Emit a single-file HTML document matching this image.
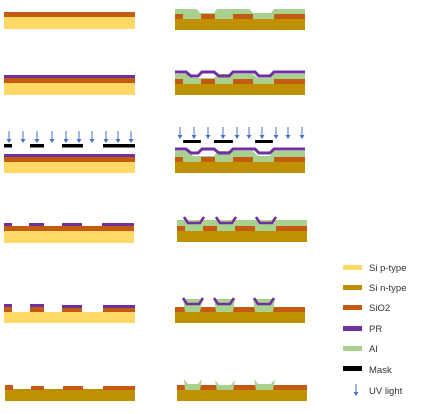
<!DOCTYPE html>
<html><head><meta charset="utf-8"><style>
body{margin:0;background:#fff;width:425px;height:414px;overflow:hidden}
svg{display:block}
text{font-family:"Liberation Sans",sans-serif;font-size:9.5px;fill:#333}
</style></head><body>
<svg width="425" height="414">
<defs>
<g id="arr"><line x1="0" y1="0" x2="0" y2="9" stroke="#4472C4" stroke-width="1"/><path d="M-2.5,8 L2.5,8 L0,12 Z" fill="#4472C4"/></g>
<g id="cup"><path d="M0,0 L4,6 L16,6 L20,0" fill="none" stroke="#7030A0" stroke-width="2.6"/></g>
</defs>
<g>
<rect x="4" y="12" width="131" height="5" fill="#C55A11"/><rect x="4" y="17" width="131" height="12" fill="#FFD966"/></g>
<g>
<rect x="4" y="75" width="131" height="3" fill="#7030A0"/><rect x="4" y="78" width="131" height="5" fill="#C55A11"/><rect x="4" y="83" width="131" height="12" fill="#FFD966"/></g>
<g>
<use href="#arr" x="9" y="131"/><use href="#arr" x="23" y="131"/><use href="#arr" x="37" y="131"/><use href="#arr" x="52" y="131"/><use href="#arr" x="66" y="131"/><use href="#arr" x="79" y="131"/><use href="#arr" x="92" y="131"/><use href="#arr" x="106" y="131"/><use href="#arr" x="118" y="131"/><use href="#arr" x="131" y="131"/>
<g fill="#000"><rect x="4" y="144" width="8" height="3.5"/><rect x="30" y="144" width="14" height="3.5"/><rect x="62" y="144" width="21" height="3.5"/><rect x="103" y="144" width="32" height="3.5"/></g>
<rect x="4" y="154" width="131" height="3" fill="#7030A0"/><rect x="4" y="157" width="131" height="5" fill="#C55A11"/><rect x="4" y="162" width="131" height="11" fill="#FFD966"/></g>
<g>
<g fill="#7030A0"><rect x="4" y="223" width="8" height="3"/><rect x="29" y="223" width="15" height="3"/><rect x="62" y="223" width="20" height="3"/><rect x="102" y="223" width="32" height="3"/></g>
<rect x="4" y="226" width="130" height="5" fill="#C55A11"/><rect x="4" y="231" width="130" height="12" fill="#FFD966"/></g>
<g>
<g fill="#7030A0"><rect x="4" y="304" width="8" height="3"/><rect x="30" y="304" width="14" height="3"/><rect x="62" y="305" width="20" height="3"/><rect x="103" y="305" width="32" height="3"/></g>
<g fill="#C55A11"><rect x="4" y="307" width="8" height="5"/><rect x="30" y="307" width="14" height="5"/><rect x="62" y="308" width="20" height="4"/><rect x="103" y="308" width="32" height="4"/></g>
<rect x="4" y="312" width="131" height="11" fill="#FFD966"/></g>
<g>
<g fill="#C55A11"><rect x="5" y="385" width="8" height="5"/><rect x="31" y="386" width="13" height="4"/><rect x="63" y="386" width="20" height="4"/><rect x="103" y="386" width="32" height="4"/></g>
<path d="M5,390 L13,390 L13,389 L31,389 L31,390 L44,390 L44,389 L63,389 L63,390 L83,390 L83,389 L103,389 L103,390 L135,390 L135,401 L5,401 Z" fill="#BF9000"/></g>
<g>
<path d="M175,9 L197,9 L200,13 L214,13 L217,9 L249,9 L253,13 L271,13 L274,9 L305,9 L305,19 L175,19 Z" fill="#A9D18E"/>
<g fill="#C55A11"><rect x="175" y="14" width="8" height="5"/><rect x="201" y="14" width="14" height="5"/><rect x="233" y="14" width="20" height="5"/><rect x="274" y="14" width="31" height="5"/></g>
<rect x="175" y="19" width="130" height="11" fill="#BF9000"/></g>
<g>
<path d="M175,74 L188,74 L193,78 L214,78 L218,74 L253,74 L258,78 L270,78 L274,74 L305,74 L305,84 L175,84 Z" fill="#A9D18E"/>
<path d="M175,72 L186,72 L191,76 L198,76 L202,72 L214,72 L219,76 L229,76 L233,72 L255,72 L259,76 L270,76 L274,72 L305,72" fill="none" stroke="#7030A0" stroke-width="3"/>
<g fill="#C55A11"><rect x="175" y="79" width="8" height="5"/><rect x="201" y="79" width="14" height="5"/><rect x="233" y="79" width="20" height="5"/><rect x="274" y="79" width="31" height="5"/></g>
<rect x="175" y="84" width="130" height="11" fill="#BF9000"/></g>
<g>
<use href="#arr" x="180" y="127"/><use href="#arr" x="194" y="127"/><use href="#arr" x="208" y="127"/><use href="#arr" x="223" y="127"/><use href="#arr" x="237" y="127"/><use href="#arr" x="249" y="127"/><use href="#arr" x="262" y="127"/><use href="#arr" x="276" y="127"/><use href="#arr" x="288" y="127"/><use href="#arr" x="302" y="127"/>
<g fill="#000"><rect x="183" y="140" width="18" height="3"/><rect x="214" y="140" width="19" height="3"/><rect x="255" y="140" width="18" height="3"/></g>
<path d="M175,151 L188,151 L193,156 L214,156 L218,151 L253,151 L258,156 L270,156 L274,151 L305,151 L305,162 L175,162 Z" fill="#A9D18E"/>
<path d="M175,149 L186,149 L191,153 L198,153 L202,149 L214,149 L219,153 L229,153 L233,149 L255,149 L259,153 L270,153 L274,149 L305,149" fill="none" stroke="#7030A0" stroke-width="3"/>
<g fill="#C55A11"><rect x="175" y="157" width="8" height="5"/><rect x="201" y="157" width="14" height="5"/><rect x="233" y="157" width="20" height="5"/><rect x="274" y="157" width="31" height="5"/></g>
<rect x="175" y="162" width="130" height="11" fill="#BF9000"/></g>
<g>
<rect x="177" y="220" width="130" height="11" fill="#A9D18E"/>
<g fill="#C55A11"><rect x="177" y="226" width="8" height="5"/><rect x="203" y="226" width="14" height="5"/><rect x="235" y="226" width="20" height="5"/><rect x="276" y="226" width="31" height="5"/></g>
<rect x="177" y="231" width="130" height="11" fill="#BF9000"/>
<use href="#cup" x="184" y="217"/><use href="#cup" x="216" y="217"/><use href="#cup" x="256" y="217"/></g>
<g>
<rect x="175" y="307" width="130" height="5" fill="#C55A11"/>
<g fill="#A9D18E"><path d="M183,299 L203,299 L200,312 L185,312Z"/><path d="M214,299 L235,299 L233,312 L216,312Z"/><path d="M253,299 L275,299 L273,312 L255,312Z"/></g>
<rect x="175" y="312" width="130" height="11" fill="#BF9000"/>
<use href="#cup" x="183" y="298"/><use href="#cup" x="214" y="298"/><use href="#cup" x="254" y="298"/></g>
<g>
<rect x="177" y="385" width="130" height="5" fill="#C55A11"/>
<g fill="#A9D18E"><path d="M184,379 L188,384 L198,384 L202,379 L200,390 L185,390Z"/><path d="M215,380 L219,385 L231,385 L235,380 L233,391 L217,391Z"/><path d="M254,379 L258,384 L271,384 L275,379 L273,390 L256,390Z"/></g>
<rect x="177" y="390" width="130" height="11" fill="#BF9000"/></g>
<g>
<g><rect x="343" y="265" width="19" height="5" fill="#FFD966"/><text x="369" y="271">Si p-type</text></g>
<g><rect x="343" y="285" width="19" height="5" fill="#BF9000"/><text x="369" y="291">Si n-type</text></g>
<g><rect x="343" y="305" width="19" height="5" fill="#C55A11"/><text x="369" y="311">SiO2</text></g>
<g><rect x="343" y="326" width="19" height="5" fill="#7030A0"/><text x="369" y="332">PR</text></g>
<g><rect x="343" y="346" width="19" height="5" fill="#A9D18E"/><text x="369" y="352">Al</text></g>
<g><rect x="343" y="366" width="19" height="5" fill="#000"/><text x="369" y="373">Mask</text></g>
<g><use href="#arr" x="356" y="384"/><text x="369" y="394">UV light</text></g>
</g>
</svg>
</body></html>
